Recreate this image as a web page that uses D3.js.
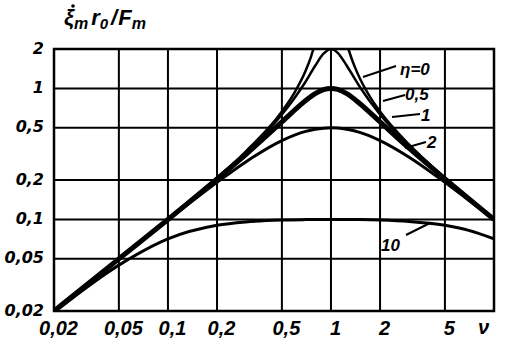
<!DOCTYPE html>
<html>
  <head>
    <meta charset="UTF-8">
    <title>Resonance curves</title>
    <style>
      body { margin: 0; background: #fff; }
      text { font-family: 'Liberation Sans', Arial, sans-serif; font-weight: bold; font-style: italic; fill: #000; }
    </style>
  </head>
  <body>
    <div id='chart'></div>
    <script src='https://d3js.org/d3.v7.min.js'></script>
    <script>

      // values
      const nu = [0.02, 0.05, 0.1, 0.2, 0.3, 0.5, 0.7, 0.8, 0.9, 1, 1.1, 1.25, 1.5, 2, 3, 5, 7, 10];
      const eta05 = [0.020, 0.050, 0.101, 0.207, 0.325, 0.632, 1.13, 1.49, 1.84, 2.0, 1.87, 1.49, 1.03, 0.632, 0.369, 0.207, 0.145, 0.101];
      const eta1 = [0.020, 0.050, 0.100, 0.204, 0.313, 0.555, 0.808, 0.912, 0.979, 1.0, 0.982, 0.912, 0.768, 0.555, 0.351, 0.204, 0.144, 0.100];
      const eta2 = [0.020, 0.050, 0.099, 0.192, 0.275, 0.400, 0.470, 0.488, 0.497, 0.5, 0.498, 0.488, 0.462, 0.400, 0.300, 0.192, 0.140, 0.099];
      const eta10 = [0.0196, 0.0448, 0.0711, 0.0902, 0.0957, 0.0989, 0.0997, 0.0999, 0.100, 0.100, 0.100, 0.0999, 0.0997, 0.0989, 0.0966, 0.0902, 0.0825, 0.0711];

      // eta = 0 goes off the top, so two branches
      const nuLeft0 = [0.02, 0.05, 0.1, 0.2, 0.3, 0.5, 0.6, 0.7, 0.75, 0.78];
      const eta0Left = [0.020, 0.050, 0.101, 0.208, 0.330, 0.667, 0.938, 1.37, 1.71, 2.0];
      const nuRight0 = [1.28, 1.35, 1.4, 1.5, 1.75, 2, 3, 5, 7, 10];
      const eta0Right = [2.0, 1.64, 1.46, 1.20, 0.848, 0.667, 0.375, 0.208, 0.146, 0.101];

      const xTicks = [0.02, 0.05, 0.1, 0.2, 0.5, 1, 2, 5];
      const xTickLabels = ['0,02', '0,05', '0,1', '0,2', '0,5', '1', '2', '5'];
      const yTicks = [0.02, 0.05, 0.1, 0.2, 0.5, 1, 2];
      const yTickLabels = ['0,02', '0,05', '0,1', '0,2', '0,5', '1', '2'];

      const width = 523;
      const height = 358;
      const plotLeft = 54, plotRight = 494, plotTop = 49, plotBottom = 311;

      const svg = d3.select('#chart')
        .append('svg')
        .attr('width', width)
        .attr('height', height);

      const x = d3.scaleLog().domain([0.02, 10]).range([plotLeft, plotRight]);
      const y = d3.scaleLog().domain([0.02, 2]).range([plotBottom, plotTop]);

      // grid
      svg.append('g')
        .selectAll('line')
        .data(xTicks.slice(1))
        .enter().append('line')
        .attr('x1', (d) => x(d)).attr('x2', (d) => x(d))
        .attr('y1', plotTop).attr('y2', plotBottom)
        .attr('stroke', '#000').attr('stroke-width', 2);

      svg.append('g')
        .selectAll('line')
        .data(yTicks.slice(1, -1))
        .enter().append('line')
        .attr('y1', (d) => y(d)).attr('y2', (d) => y(d))
        .attr('x1', plotLeft).attr('x2', plotRight)
        .attr('stroke', '#000').attr('stroke-width', 2);

      svg.append('rect')
        .attr('x', plotLeft).attr('y', plotTop)
        .attr('width', plotRight - plotLeft).attr('height', plotBottom - plotTop)
        .attr('fill', 'none').attr('stroke', '#000').attr('stroke-width', 2.5);

      // axes
      const xAxis = svg.append('g')
        .attr('transform', `translate(0,${plotBottom})`)
        .call(d3.axisBottom(x)
          .tickValues(xTicks)
          .tickSize(0)
          .tickPadding(10)
          .tickFormat((d, i) => xTickLabels[i]));
      xAxis.select('.domain').remove();
      xAxis.selectAll('text')
        .attr('font-family', null).attr('font-size', null)
        .style('font-size', '20px')
        .attr('dx', 4);

      const yAxis = svg.append('g')
        .attr('transform', `translate(${plotLeft},0)`)
        .call(d3.axisLeft(y)
          .tickValues(yTicks)
          .tickSize(0)
          .tickPadding(10)
          .tickFormat((d, i) => yTickLabels[i]));
      yAxis.select('.domain').remove();
      yAxis.selectAll('text')
        .attr('font-family', null).attr('font-size', null)
        .style('font-family', "'DejaVu Sans', sans-serif")
        .style('font-size', '16px')
        .attr('dy', '0.25em');

      // curves
      svg.append('clipPath').attr('id', 'plot')
        .append('rect')
        .attr('x', plotLeft).attr('y', plotTop - 1)
        .attr('width', plotRight - plotLeft).attr('height', plotBottom - plotTop + 1);

      const line = d3.line()
        .x((d) => x(d[0]))
        .y((d) => y(d[1]))
        .curve(d3.curveMonotoneX);

      const curves = [
        { xs: nuLeft0, ys: eta0Left, w: 2.5 },
        { xs: nuRight0, ys: eta0Right, w: 2.5 },
        { xs: nu, ys: eta05, w: 2.5 },
        { xs: nu, ys: eta1, w: 5 },
        { xs: nu, ys: eta2, w: 3 },
        { xs: nu, ys: eta10, w: 3 }
      ];

      svg.append('g')
        .attr('clip-path', 'url(#plot)')
        .selectAll('path')
        .data(curves)
        .enter().append('path')
        .attr('d', (c) => line(c.xs.map((v, i) => [v, c.ys[i]])))
        .attr('fill', 'none')
        .attr('stroke', '#000')
        .attr('stroke-width', (c) => c.w)
        .attr('stroke-linejoin', 'round');

      // curve labels with leaders
      const labels = [
        { t: 'η=0', lx: 400, ly: 75, x1: 363, y1: 77, x2: 396, y2: 66 },
        { t: '0,5', lx: 405, ly: 100, x1: 383, y1: 101, x2: 405, y2: 95 },
        { t: '1', lx: 421, ly: 121, x1: 392, y1: 117, x2: 420, y2: 114 },
        { t: '2', lx: 427, ly: 148, x1: 405, y1: 148, x2: 426, y2: 142 },
        { t: '10', lx: 381, ly: 251, x1: 406, y1: 235, x2: 430, y2: 223 }
      ];

      svg.append('g')
        .selectAll('line')
        .data(labels)
        .enter().append('line')
        .attr('x1', (d) => d.x1).attr('y1', (d) => d.y1)
        .attr('x2', (d) => d.x2).attr('y2', (d) => d.y2)
        .attr('stroke', '#000').attr('stroke-width', 2);

      svg.append('g')
        .selectAll('text')
        .data(labels)
        .enter().append('text')
        .attr('x', (d) => d.lx).attr('y', (d) => d.ly)
        .style('font-size', '17px')
        .text((d) => d.t);

      svg.append('text')
        .attr('x', 478).attr('y', 334)
        .style('font-size', '20px')
        .text('ν');

      // title, with the time-derivative dot over ξ
      svg.append('circle')
        .attr('cx', 73).attr('cy', 6).attr('r', 1.8)
        .attr('fill', '#000');
      const title = svg.append('text')
        .attr('x', 64).attr('y', 25)
        .style('font-size', '22px');
      title.append('tspan').text('ξ');
      title.append('tspan').attr('dy', 4).style('font-size', '16px').text('m');
      title.append('tspan').attr('dy', -4).attr('dx', 3).text('r');
      title.append('tspan').attr('dy', 4).style('font-size', '15px').text('0');
      title.append('tspan').attr('dy', -4).attr('dx', 3).text('/');
      title.append('tspan').attr('dx', 1).text('F');
      title.append('tspan').attr('dy', 4).style('font-size', '16px').text('m');

    </script>
  </body>
</html>
